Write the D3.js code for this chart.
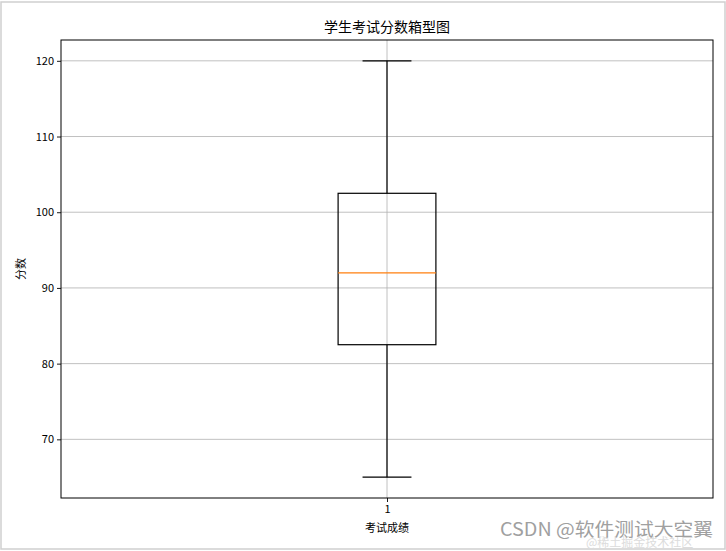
<!DOCTYPE html>
<html>
<head>
<meta charset="utf-8">
<script src="https://cdn.jsdelivr.net/npm/d3@7"></script>
<style>
  body { margin: 0; background: #fff; }
  text { font-family: "Noto Sans CJK SC", "DejaVu Sans", sans-serif; }
</style>
</head>
<body>
<div id="plot"></div>
<script>
// box stats
const categories = ["1"];
const whiskerLow = [65];
const q1 = [82.5];
const median = [92];
const q3 = [102.5];
const whiskerHigh = [120];
const yTicks = [70, 80, 90, 100, 110, 120];

const W = 726, H = 551;
const margin = { top: 40, right: 13, bottom: 53, left: 61 };
const width = W - margin.left - margin.right;
const height = H - margin.top - margin.bottom;

const boxes = categories.map((c, i) => ({
  name: c, pos: i + 1,
  lo: whiskerLow[i], q1: q1[i], med: median[i], q3: q3[i], hi: whiskerHigh[i]
}));

const svg = d3.select("#plot").append("svg")
  .attr("width", W)
  .attr("height", H);

// faint frame of the screenshot
svg.append("rect")
  .attr("x", 1).attr("y", 2)
  .attr("width", W - 2).attr("height", H - 4)
  .attr("fill", "none")
  .attr("stroke", "#cfcfcf")
  .attr("stroke-width", 1.5);

const g = svg.append("g")
  .attr("transform", "translate(" + margin.left + "," + margin.top + ")");

// matplotlib style limits: 5% padding on y, 0.5 around positions on x
const lo = d3.min(boxes, d => d.lo), hi = d3.max(boxes, d => d.hi);
const pad = (hi - lo) * 0.05;
const xScale = d3.scaleLinear().domain([0.5, categories.length + 0.5]).range([0, width]);
const yScale = d3.scaleLinear().domain([lo - pad, hi + pad]).range([height, 0]);

// grid
g.append("g").selectAll("line").data(yTicks).join("line")
  .attr("x1", 0).attr("x2", width)
  .attr("y1", d => yScale(d)).attr("y2", d => yScale(d))
  .attr("stroke", "#b0b0b0").attr("stroke-width", 0.8);
g.append("g").selectAll("line").data(boxes).join("line")
  .attr("x1", d => xScale(d.pos)).attr("x2", d => xScale(d.pos))
  .attr("y1", 0).attr("y2", height)
  .attr("stroke", "#b0b0b0").attr("stroke-width", 0.8);

// boxes
const boxW = xScale(0.15) - xScale(0);
const capW = boxW / 2;
const bx = g.append("g").selectAll("g").data(boxes).join("g");

bx.append("line")
  .attr("x1", d => xScale(d.pos)).attr("x2", d => xScale(d.pos))
  .attr("y1", d => yScale(d.q3)).attr("y2", d => yScale(d.hi))
  .attr("stroke", "#000").attr("stroke-width", 1.2);
bx.append("line")
  .attr("x1", d => xScale(d.pos)).attr("x2", d => xScale(d.pos))
  .attr("y1", d => yScale(d.q1)).attr("y2", d => yScale(d.lo))
  .attr("stroke", "#000").attr("stroke-width", 1.2);
bx.append("line")
  .attr("x1", d => xScale(d.pos) - capW / 2).attr("x2", d => xScale(d.pos) + capW / 2)
  .attr("y1", d => yScale(d.hi)).attr("y2", d => yScale(d.hi))
  .attr("stroke", "#000").attr("stroke-width", 1.2);
bx.append("line")
  .attr("x1", d => xScale(d.pos) - capW / 2).attr("x2", d => xScale(d.pos) + capW / 2)
  .attr("y1", d => yScale(d.lo)).attr("y2", d => yScale(d.lo))
  .attr("stroke", "#000").attr("stroke-width", 1.2);
bx.append("rect")
  .attr("x", d => xScale(d.pos) - boxW / 2)
  .attr("y", d => yScale(d.q3))
  .attr("width", boxW)
  .attr("height", d => yScale(d.q1) - yScale(d.q3))
  .attr("fill", "none")
  .attr("stroke", "#000").attr("stroke-width", 1.2);
bx.append("line")
  .attr("x1", d => xScale(d.pos) - boxW / 2).attr("x2", d => xScale(d.pos) + boxW / 2)
  .attr("y1", d => yScale(d.med)).attr("y2", d => yScale(d.med))
  .attr("stroke", "#ff7f0e").attr("stroke-width", 1.2);

// axes
const xAxis = g.append("g")
  .attr("transform", "translate(0," + height + ")")
  .call(d3.axisBottom(xScale).tickValues(boxes.map(d => d.pos))
    .tickFormat((d, i) => categories[i]).tickSize(4).tickPadding(3));
const yAxis = g.append("g")
  .call(d3.axisLeft(yScale).tickValues(yTicks).tickSize(4).tickPadding(3));
[xAxis, yAxis].forEach(a => {
  a.select(".domain").remove();
  a.selectAll("line").attr("stroke", "#000").attr("stroke-width", 0.9);
  a.selectAll("text").attr("font-size", 11).attr("fill", "#000")
    .attr("font-family", "'Noto Sans CJK SC', sans-serif");
});

// frame
g.append("rect")
  .attr("width", width).attr("height", height)
  .attr("fill", "none").attr("stroke", "#000").attr("stroke-width", 1);

// labels
svg.append("text")
  .attr("x", margin.left + width / 2).attr("y", 32)
  .attr("text-anchor", "middle").attr("font-size", 14)
  .text("学生考试分数箱型图");
svg.append("text")
  .attr("x", margin.left + width / 2).attr("y", 532)
  .attr("text-anchor", "middle").attr("font-size", 11)
  .text("考试成绩");
svg.append("text")
  .attr("transform", "translate(25," + (margin.top + height / 2) + ") rotate(-90)")
  .attr("text-anchor", "middle").attr("font-size", 11)
  .text("分数");

// watermarks
svg.append("text")
  .attr("x", 586).attr("y", 547)
  .attr("font-size", 12).attr("fill", "#dcdcdc")
  .text("@稀土掘金技术社区");
svg.append("text")
  .attr("x", 500).attr("y", 536)
  .attr("font-size", 18).attr("fill", "#a0a0a0")
  .attr("textLength", 213).attr("lengthAdjust", "spacingAndGlyphs")
  .text("CSDN @软件测试大空翼");
</script>
</body>
</html>
